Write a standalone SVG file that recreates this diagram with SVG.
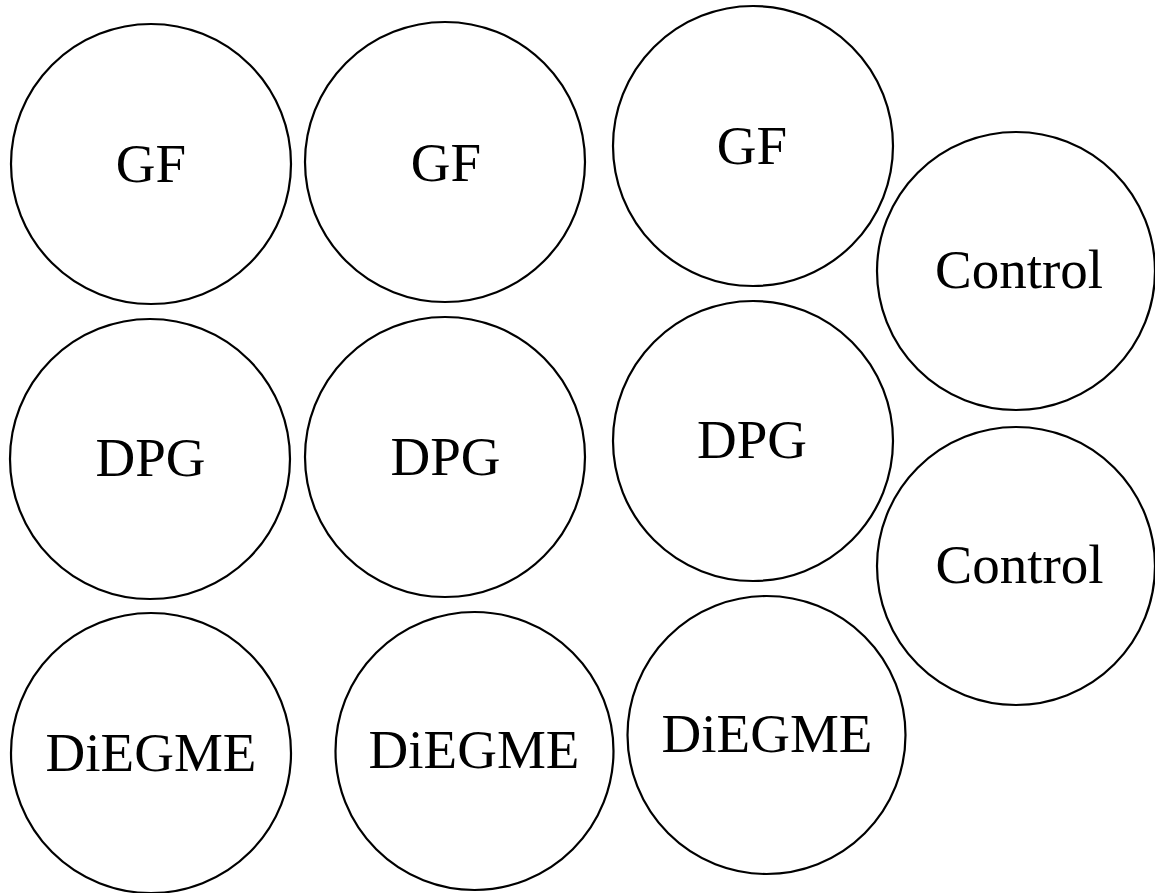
<svg xmlns="http://www.w3.org/2000/svg" width="1155" height="893" viewBox="0 0 1155 893">
<style>
.c{fill:#fff;stroke:#000;stroke-width:2.2}
.t{font-family:"Liberation Serif","Times New Roman",serif;font-size:55px;fill:#000;text-anchor:middle}
</style>
<rect width="1155" height="893" fill="#fff"/>
<g id="gf1"><circle class="c" cx="151" cy="164" r="140"/><text class="t" x="151" y="182">GF</text></g>
<g id="gf2"><circle class="c" cx="445" cy="162" r="140"/><text class="t" x="446" y="181">GF</text></g>
<g id="gf3"><circle class="c" cx="753" cy="146" r="140"/><text class="t" x="752" y="164">GF</text></g>
<g id="control1"><circle class="c" cx="1016" cy="271" r="139"/><text class="t" x="1019" y="288">Control</text></g>
<g id="dpg1"><circle class="c" cx="150" cy="459" r="140"/><text class="t" x="150.5" y="476">DPG</text></g>
<g id="dpg2"><circle class="c" cx="445" cy="457" r="140"/><text class="t" x="445.5" y="475">DPG</text></g>
<g id="dpg3"><circle class="c" cx="753" cy="441" r="140"/><text class="t" x="752" y="458">DPG</text></g>
<g id="control2"><circle class="c" cx="1016" cy="566" r="139"/><text class="t" x="1019.5" y="583">Control</text></g>
<g id="diegme1"><circle class="c" cx="151" cy="753" r="140"/><text class="t" x="151" y="771">DiEGME</text></g>
<g id="diegme2"><circle class="c" cx="474.5" cy="751" r="139"/><text class="t" x="474" y="768">DiEGME</text></g>
<g id="diegme3"><circle class="c" cx="766.5" cy="735" r="139"/><text class="t" x="767" y="752">DiEGME</text></g>
<g id="connectors"></g>
</svg>
